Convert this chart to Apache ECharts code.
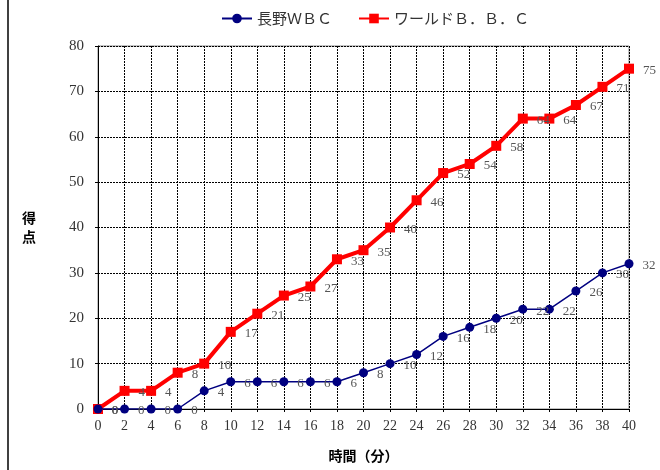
<!DOCTYPE html>
<html><head><meta charset="utf-8">
<script src="https://cdn.jsdelivr.net/npm/echarts@6/dist/echarts.min.js"></script>
<style>html,body{margin:0;padding:0;background:#fff}#c{width:660px;height:470px}</style>
</head><body><div id="c"></div>
<script>
var xValues = [0,2,4,6,8,10,12,14,16,18,20,22,24,26,28,30,32,34,36,38,40];
var naganoWBC = [0,0,0,0,4,6,6,6,6,6,8,10,12,16,18,20,22,22,26,30,32];
var worldBBC = [0,4,4,8,10,17,21,25,27,33,35,40,46,52,54,58,64,64,67,71,75];
var seriesNames = ['長野ＷＢＣ','ワールドＢ．Ｂ．Ｃ'];
var xName = '時間（分）';
var yName = '得\n点';

function pairs(v){ return xValues.map(function(x,i){ return [x, v[i]]; }); }
var serifFont = '"Liberation Serif","DejaVu Serif",serif';
var labelStyle = { show:true, position:'right', distance:9, color:'#555', fontFamily:serifFont, fontSize:13, offset:[0,2] };

var chart = echarts.init(document.getElementById('c'), null, {renderer:'canvas'});
chart.setOption({
  animation:false,
  backgroundColor:'#fff',
  legend:{
    top:6, left:216, itemGap:26, itemWidth:30, itemHeight:12,
    textStyle:{ fontFamily:'"Noto Sans CJK JP",sans-serif', fontSize:15, color:'#333' },
    data:[{name:seriesNames[0]},{name:seriesNames[1]}]
  },
  grid:{ left:98, right:31, top:46, bottom:61, show:true, borderColor:'#888', borderWidth:1 },
  xAxis:{
    type:'value', min:0, max:40, interval:2,
    name:xName, nameLocation:'middle', nameGap:40,
    nameTextStyle:{ fontFamily:'"Noto Sans CJK JP",sans-serif', fontWeight:'bold', fontSize:14, color:'#000' },
    axisLine:{ show:true, lineStyle:{ color:'#000', width:1 } },
    axisTick:{ show:true, length:3, lineStyle:{color:'#000'} },
    axisLabel:{ fontFamily:serifFont, fontSize:14, color:'#333', margin:10 },
    splitLine:{ show:true, lineStyle:{ type:[2,1], color:'#000', width:1 } }
  },
  yAxis:{
    type:'value', min:0, max:80, interval:10,
    name:yName, nameLocation:'middle', nameRotate:0, nameGap:69,
    nameTextStyle:{ fontFamily:'"Noto Sans CJK JP",sans-serif', fontWeight:'bold', fontSize:14, color:'#000', lineHeight:19, align:'center', padding:[12,0,0,0] },
    axisLine:{ show:true, lineStyle:{ color:'#000', width:1 } },
    axisTick:{ show:true, length:3, lineStyle:{color:'#000'} },
    axisLabel:{ fontFamily:serifFont, fontSize:15, color:'#333', margin:14 },
    splitLine:{ show:true, lineStyle:{ type:[2,1], color:'#000', width:1 } }
  },
  graphic:[{ type:'line', shape:{x1:8,y1:0,x2:8,y2:470}, style:{stroke:'#000', lineWidth:1.5} }],
  series:[
    { name:seriesNames[0], type:'line', data:pairs(naganoWBC), symbol:'circle', symbolSize:9,
      itemStyle:{ color:'#000080' }, lineStyle:{ color:'#000080', width:1.5 }, label:labelStyle, z:3 },
    { name:seriesNames[1], type:'line', data:pairs(worldBBC), symbol:'rect', symbolSize:10,
      itemStyle:{ color:'#ff0000' }, lineStyle:{ color:'#ff0000', width:4 }, label:labelStyle, z:2 }
  ]
});
</script></body></html>
